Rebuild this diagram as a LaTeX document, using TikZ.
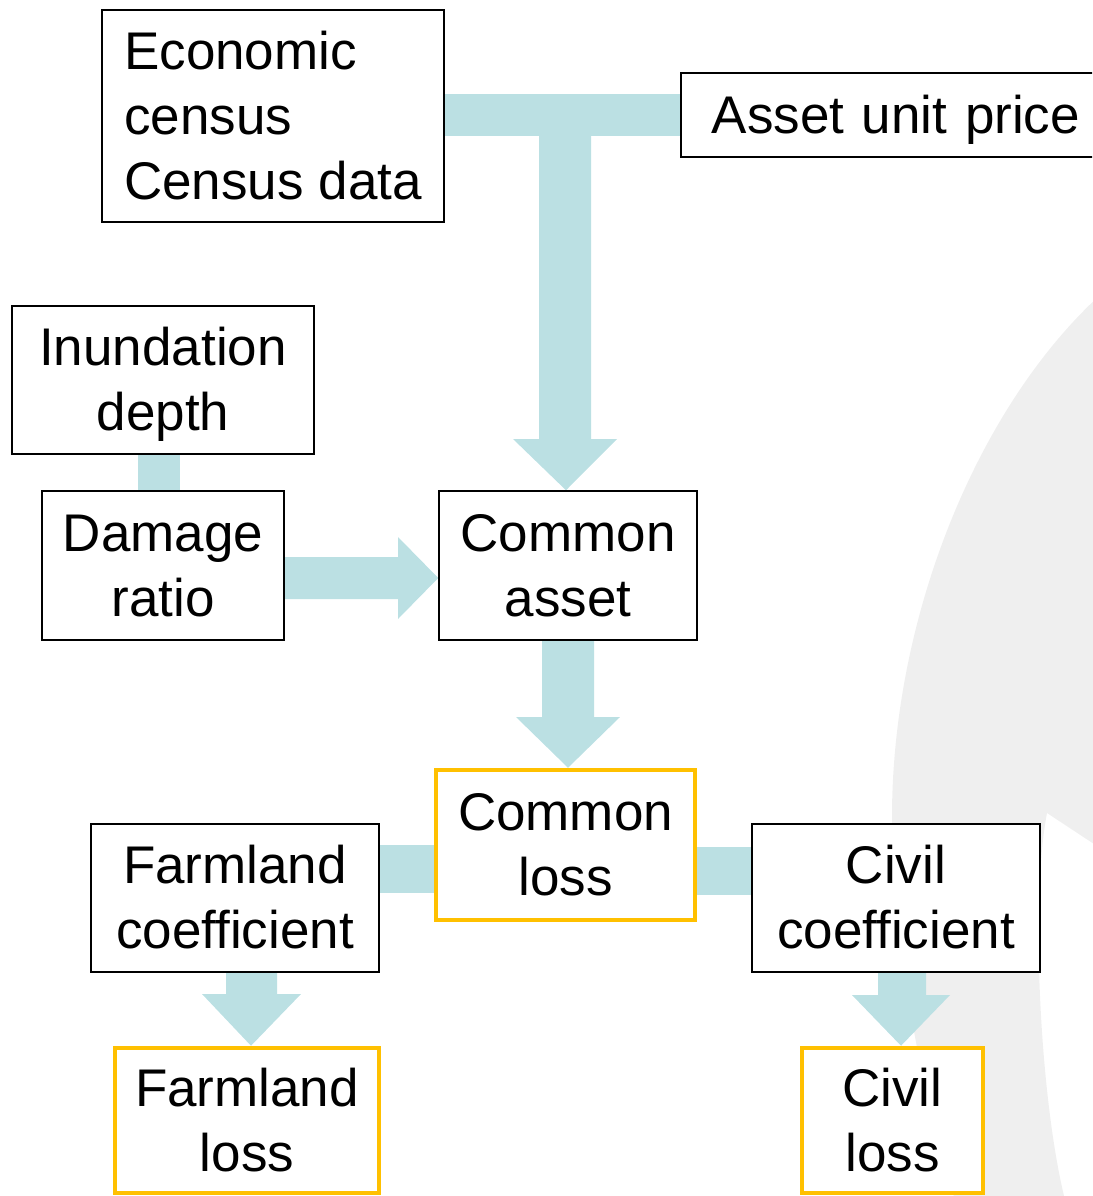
\documentclass[tikz,border=0pt]{standalone}
\usepackage{fontspec}
\setmainfont{Liberation Sans}
\usetikzlibrary{calc}
\pgfdeclarelayer{bgshape}
\pgfdeclarelayer{conns}
\pgfsetlayers{bgshape,conns,main}
\definecolor{bggray}{HTML}{EFEFEF}
\definecolor{connblue}{HTML}{BBE0E3}
\definecolor{lossorange}{HTML}{FFC000}
\newcommand\ppstrut{\rule[-0.212em]{0pt}{1.117em}}
\tikzset{
  box/.style={draw=black, line width=1.5pt, fill=white, inner sep=0pt, align=center,
    font=\fontsize{53}{65}\selectfont},
  lossbox/.style={box, draw=lossorange, line width=4.5pt},
  conn/.style={fill=connblue, draw=none},
}
\begin{document}
\begin{tikzpicture}[x=1pt,y=-1pt]
\useasboundingbox (0,0) rectangle (1092,1196);
\clip (0,0) rectangle (1092,1196);

% nodes
\node[box, minimum width=342pt, minimum height=212pt, align=left] (econ) at (273,116) {Economic\ppstrut\\census\ppstrut\\Census data\ppstrut};
\node[box, anchor=west, minimum width=440pt, minimum height=84pt, text width=378pt, inner xsep=31pt, align=left] (price) at (680,115) {Asset unit price\ppstrut};
\node[box, minimum width=302pt, minimum height=148pt] (inund) at (163,380) {Inundation\ppstrut\\depth\ppstrut};
\node[box, minimum width=242pt, minimum height=149pt] (damage) at (163,565.5) {Damage\ppstrut\\ratio\ppstrut};
\node[box, minimum width=258pt, minimum height=149pt] (casset) at (568,565.5) {Common\ppstrut\\asset\ppstrut};
\node[lossbox, minimum width=259pt, minimum height=150pt] (closs) at (565.5,845) {Common\ppstrut\\loss\ppstrut};
\node[box, minimum width=288pt, minimum height=148pt] (farmc) at (235,898) {Farmland\ppstrut\\coefficient\ppstrut};
\node[box, minimum width=288pt, minimum height=148pt] (civilc) at (896,898) {Civil\ppstrut\\coefficient\ppstrut};
\node[lossbox, minimum width=264pt, minimum height=145pt] (farml) at (247,1120.5) {Farmland\ppstrut\\loss\ppstrut};
\node[lossbox, minimum width=181pt, minimum height=145pt] (civill) at (892.5,1120.5) {Civil\ppstrut\\loss\ppstrut};

% background shape
\begin{pgfonlayer}{bgshape}
\fill[bggray] (1100,295) .. controls (975,410) and (892,620) .. (892,817)
  .. controls (892,960) and (930,1120) .. (955,1200) -- (1065,1200)
  .. controls (1040,1100) and (1030,900) .. (1047,813) -- (1100,848) -- cycle;
\end{pgfonlayer}

% connectors
\begin{pgfonlayer}{conns}
% T connector from census & price down to common asset
\fill[conn] (econ.east |- 0,94) rectangle (price.west |- 0,136);
\fill[conn] (539,136) -- (539,439) -- (513,439) -- (casset.north -| 566,0) -- (617,439) -- (591,439) -- (591,136) -- cycle;
% inundation - damage
\fill[conn] (inund.south -| 138,0) rectangle (damage.north -| 180,0);
% damage -> common asset
\fill[conn] (damage.east |- 0,557) -- (398,557) -- (398,537) -- (casset.west |- 0,578) -- (398,619) -- (398,599) -- (damage.east |- 0,599) -- cycle;
% common asset -> common loss
\fill[conn] (casset.south -| 542,0) -- (542,717) -- (516,717) -- (closs.north -| 568,0) -- (620,717) -- (594,717) -- (casset.south -| 594,0) -- cycle;
% common loss - farmland coefficient
\fill[conn] (farmc.east |- 0,845) rectangle (closs.west |- 0,893);
% common loss - civil coefficient
\fill[conn] (closs.east |- 0,847) rectangle (civilc.west |- 0,895);
% farmland coefficient -> farmland loss
\fill[conn] (farmc.south -| 226,0) -- (226,994) -- (202,994) -- (farml.north -| 251,0) -- (301,994) -- (277,994) -- (farmc.south -| 277,0) -- cycle;
% civil coefficient -> civil loss
\fill[conn] (civilc.south -| 878,0) -- (878,995) -- (852,995) -- (civill.north -| 901,0) -- (950,995) -- (926,995) -- (civilc.south -| 926,0) -- cycle;
\end{pgfonlayer}
\end{tikzpicture}
\end{document}
